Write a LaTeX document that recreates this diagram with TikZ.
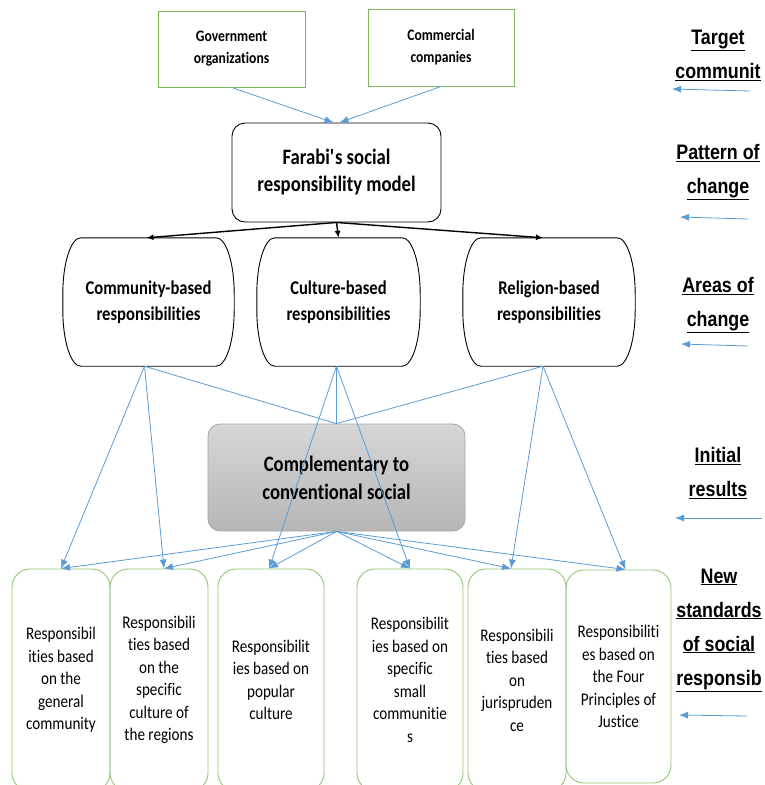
\documentclass[tikz,border=0pt]{standalone}
\usepackage{fontspec}
\setmainfont[FakeStretch=0.85,Ligatures=NoCommon]{Carlito}
\newfontfamily\tierfont[FakeStretch=0.85]{Liberation Sans}
\usetikzlibrary{arrows.meta}
\definecolor{linkblue}{HTML}{5B9BD5}
\definecolor{topgreen}{HTML}{7DB85A}
\definecolor{lowgreen}{HTML}{93C572}
\definecolor{graytop}{HTML}{D6D6D6}
\definecolor{graybot}{HTML}{B6B6B6}
\definecolor{grayline}{HTML}{A8A8A8}

\begin{document}
\begin{tikzpicture}[x=1pt,y=1pt,
  orgbox/.style={draw=topgreen,line width=0.9pt,inner sep=0pt,align=center,font=\fontsize{16}{22}\selectfont\bfseries},
  modelbox/.style={draw,line width=0.9pt,rounded corners=13pt,inner sep=0pt,align=center,font=\fontsize{22}{27}\selectfont\bfseries},
  areabox/.style={inner sep=0pt,align=center,font=\fontsize{19.5}{26}\selectfont\bfseries},
  resultbox/.style={draw=grayline,line width=0.8pt,rounded corners=12pt,top color=graytop,bottom color=graybot,inner sep=0pt,align=center,font=\fontsize{22}{28}\selectfont\bfseries},
  stdbox/.style={draw=lowgreen,line width=0.9pt,rounded corners=18pt,inner sep=0pt,align=center,font=\fontsize{17.8}{22.5}\selectfont},
  tier/.style={align=center,font=\fontsize{21}{34}\selectfont\tierfont\bfseries},
  link/.style={draw=linkblue,line width=0.8pt},
  linkarrow/.style={link,-{Latex[length=9pt,width=7pt]}},
  mainarrow/.style={line width=1.4pt,-{Latex[length=7pt,width=6pt]}}]
\useasboundingbox (0,0) rectangle (764,-785);
\node[orgbox,minimum width=147pt,minimum height=76pt] (gov) at (231.5,-49) {Government\\organizations};
\node[orgbox,minimum width=146pt,minimum height=77pt] (com) at (441,-47.5) {Commercial\\companies};
\node[modelbox,minimum width=209pt,minimum height=99pt] (model) at (336.5,-172.5) {Farabi\textquotesingle s social\\responsibility model};
\node[areabox,minimum width=171pt,minimum height=128pt] (commu) at (148.5,-302) {Community-based\\responsibilities};
\node[areabox,minimum width=163pt,minimum height=128pt] (cultu) at (338.5,-302) {Culture-based\\responsibilities};
\node[areabox,minimum width=172pt,minimum height=128pt] (relig) at (549,-302) {Religion-based\\responsibilities};
\foreach \a in {commu,cultu,relig}
  \draw[line width=0.9pt] ([xshift=-18pt]\a.north east) arc[start angle=90,end angle=0,x radius=18,y radius=56]
    -- ([yshift=56pt]\a.south east) arc[start angle=0,end angle=-90,x radius=18,y radius=56]
    -- ([xshift=18pt]\a.south west) arc[start angle=-90,end angle=-180,x radius=18,y radius=56]
    -- ([yshift=-56pt]\a.north west) arc[start angle=180,end angle=90,x radius=18,y radius=56] -- cycle;
\node[resultbox,minimum width=257pt,minimum height=107pt] (compl) at (336.5,-477.5) {Complementary to\\conventional social};
\node[stdbox,minimum width=98pt,minimum height=222pt] (general) at (61,-680) {Responsibil\\ities based\\on the\\general\\community};
\node[stdbox,minimum width=98pt,minimum height=222pt] (regions) at (159,-680) {Responsibili\\ties based\\on the\\specific\\culture of\\the regions};
\node[stdbox,minimum width=106pt,minimum height=222pt] (popular) at (271,-680) {Responsibilit\\ies based on\\popular\\culture};
\node[stdbox,minimum width=106pt,minimum height=222pt] (small) at (410,-680) {Responsibilit\\ies based on\\specific\\small\\communitie\\s};
\node[stdbox,minimum width=98pt,minimum height=222pt] (juris) at (517,-680) {Responsibili\\ties based\\on\\jurispruden\\ce};
\node[stdbox,minimum width=105pt,minimum height=213pt] (justice) at (618.5,-676.5) {Responsibiliti\\es based on\\the Four\\Principles of\\Justice};
\node[tier] (target) at (718,-55) {\underline{Target}\\\underline{communit}};
\node[tier] (pattern) at (718,-172) {\underline{Pattern of}\\\underline{change}};
\node[tier] (areas) at (718,-305) {\underline{Areas of}\\\underline{change}};
\node[tier] (initial) at (718,-473) {\underline{Initial}\\\underline{results}};
\node[tier] (standards) at (719,-630) {\underline{New}\\\underline{standards}\\\underline{of social}\\\underline{responsib}};
\coordinate (t1) at (750,-91);\coordinate (t1e) at (672,-89);
\coordinate (t2) at (748,-219);\coordinate (t2e) at (680,-217);
\coordinate (t3) at (748,-346);\coordinate (t3e) at (681,-344);
\coordinate (t4) at (762,-518);\coordinate (t4e) at (675,-518);
\coordinate (t5) at (747,-716);\coordinate (t5e) at (679,-715);
\draw[linkarrow] (t1) -- (t1e);
\draw[linkarrow] (t2) -- (t2e);
\draw[linkarrow] (t3) -- (t3e);
\draw[linkarrow] (t4) -- (t4e);
\draw[linkarrow] (t5) -- (t5e);
\draw[linkarrow] (gov.south) -- ([xshift=-3pt]model.north);
\draw[linkarrow] (com.south) -- ([xshift=3pt]model.north);
\draw[mainarrow] (model.south) -- ([xshift=-2pt]commu.north);
\draw[mainarrow] (model.south) -- (cultu.north);
\draw[mainarrow] (model.south) -- ([xshift=-6pt]relig.north);
\draw[link] ([xshift=-4pt]commu.south) -- (compl.north);
\draw[link] ([xshift=-2pt]cultu.south) -- (compl.north);
\draw[link] ([xshift=-6pt]relig.south) -- (compl.north);
\draw[linkarrow] ([xshift=-4pt]commu.south) -- (general.north);
\draw[linkarrow] ([xshift=-4pt]commu.south) -- ([xshift=5pt]regions.north);
\draw[linkarrow] ([xshift=-2pt]cultu.south) -- ([xshift=-2pt]popular.north);
\draw[linkarrow] ([xshift=-2pt]cultu.south) -- (small.north);
\draw[linkarrow] ([xshift=-6pt]relig.south) -- ([xshift=-6pt]juris.north);
\draw[linkarrow] ([xshift=-6pt]relig.south) -- ([xshift=7pt]justice.north);
\draw[linkarrow] (compl.south) -- (general.north);
\draw[linkarrow] (compl.south) -- ([xshift=5pt]regions.north);
\draw[linkarrow] (compl.south) -- ([xshift=-2pt]popular.north);
\draw[linkarrow] (compl.south) -- (small.north);
\draw[linkarrow] (compl.south) -- ([xshift=-6pt]juris.north);
\draw[linkarrow] (compl.south) -- ([xshift=7pt]justice.north);
\end{tikzpicture}
\end{document}
